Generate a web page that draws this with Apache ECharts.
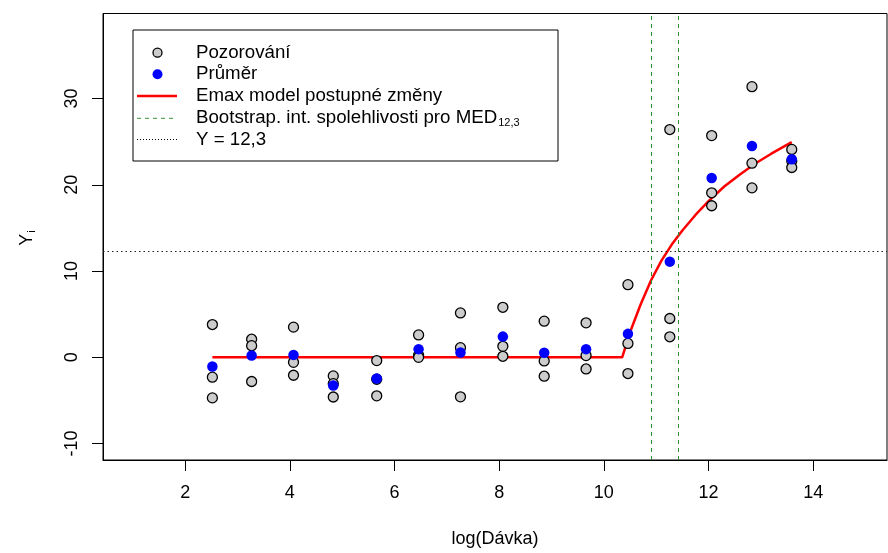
<!DOCTYPE html>
<html>
<head>
<meta charset="utf-8">
<script src="https://cdn.jsdelivr.net/npm/echarts@6/dist/echarts.min.js"></script>
<style>
html,body{margin:0;padding:0;background:#fff;}
#c{width:888px;height:553px;}
</style>
</head>
<body>
<div id="c"></div>
<script>
// ---- data ----
const doseLog = [2.52, 3.27, 4.07, 4.83, 5.66, 6.46, 7.26, 8.07, 8.86, 9.66, 10.46, 11.26, 12.06, 12.83, 13.59];
const obsHigh = [3.8, 2.1, 3.5, -2.15, -0.38, 2.6, 5.15, 5.8, 4.19, 4.0, 8.42, 26.4, 25.7, 31.37, 24.1];
const obsMid  = [-2.3, 1.35, -0.58, -3.05, -2.54, 0.25, 1.12, 1.27, -0.42, 0.2, 1.61, 4.5, 19.07, 22.5, 22.75];
const obsLow  = [-4.7, -2.8, -2.08, -4.6, -4.46, 0.0, -4.58, 0.12, -2.19, -1.35, -1.88, 2.38, 17.57, 19.64, 22.0];
const means   = [-1.07, 0.22, 0.28, -3.27, -2.46, 0.95, 0.56, 2.40, 0.53, 0.95, 2.72, 11.09, 20.78, 24.5, 22.95];
const curveX  = [2.52, 10.35, 10.5, 10.7, 10.9, 11.1, 11.3, 11.5, 11.75, 12.0, 12.3, 12.6, 12.9, 13.2, 13.59];
const curveY  = [0, 0, 2.9, 6.1, 8.9, 11.2, 13.1, 14.7, 16.5, 18.1, 19.8, 21.2, 22.5, 23.6, 24.95];
const ciBounds = [10.91, 11.426];
const yThreshold = 12.3;
const xTicks = [2, 4, 6, 8, 10, 12, 14];
const yTicks = [-10, 0, 10, 20, 30];
const legendLabels = ['Pozorování', 'Průměr', 'Emax model postupné změny', 'Bootstrap. int. spolehlivosti pro MED', 'Y = 12,3'];
const legendSub = '12,3';

const FONT = '"Liberation Sans", Arial, Helvetica, sans-serif';
const FS = 18;
const LFS = 18.7;
const GREEN = '#2f8f2f';

function pairs(xs, ys){ return xs.map((x,i)=>[x, ys[i]]); }
const obsAll = [].concat(pairs(doseLog, obsHigh), pairs(doseLog, obsMid), pairs(doseLog, obsLow));

function measure(t, size){
  const c = document.createElement('canvas').getContext('2d');
  c.font = size + 'px ' + FONT;
  return c.measureText(t).width;
}

const chart = echarts.init(document.getElementById('c'), null, {renderer:'canvas'});

// legend geometry
const LX = 133, LY = 30, LW = 425, LH = 131;
const rowY = [52.7, 74.3, 96, 118.3, 139.5];
const symX = 157.5, txtX = 196;
const lineX1 = 137, lineX2 = 177;

const g = [];
g.push({type:'rect', shape:{x:LX, y:LY, width:LW, height:LH}, style:{fill:'#fff', stroke:'#000', lineWidth:1}, z:100});
g.push({type:'circle', shape:{cx:symX, cy:rowY[0], r:4.5}, style:{fill:'#cccccc', stroke:'#000', lineWidth:1.3}, z:101});
g.push({type:'circle', shape:{cx:symX, cy:rowY[1], r:5}, style:{fill:'#0000ff'}, z:101});
g.push({type:'line', shape:{x1:lineX1, y1:rowY[2], x2:lineX2, y2:rowY[2]}, style:{stroke:'#ff0000', lineWidth:2.5}, z:101});
g.push({type:'line', shape:{x1:lineX1, y1:rowY[3], x2:lineX2, y2:rowY[3]}, style:{stroke:GREEN, lineWidth:1, lineDash:[4,4]}, z:101});
g.push({type:'line', shape:{x1:lineX1, y1:rowY[4], x2:lineX2, y2:rowY[4]}, style:{stroke:'#000', lineWidth:1, lineDash:[1,2]}, z:101});
legendLabels.forEach((t,i)=>{
  g.push({type:'text', x:txtX, y:rowY[i], style:{text:t, font: LFS+'px '+FONT, fill:'#000', verticalAlign:'middle', align:'left'}, z:101});
});
const subX = txtX + measure(legendLabels[3], LFS) + 1;
g.push({type:'text', x:subX, y:rowY[3]+5, style:{text:legendSub, font:'11px '+FONT, fill:'#000', verticalAlign:'middle', align:'left'}, z:101});
// y axis title with subscript
g.push({type:'text', x:27, y:238, rotation:Math.PI/2, style:{text:'{a|Y}{b|i}', align:'center', verticalAlign:'middle',
  rich:{a:{fontSize:FS, fontFamily:FONT, fill:'#000', lineHeight:20}, b:{fontSize:11, fontFamily:FONT, fill:'#000', lineHeight:11, verticalAlign:'bottom', padding:[0,0,0,1]}}}, z:101});

const option = {
  animation:false,
  backgroundColor:'#fff',
  grid:{left:103, right:1, top:13.5, bottom:90.7, show:true, borderColor:'#000', borderWidth:1, containLabel:false},
  xAxis:{
    type:'value', min:0.43, max:15.41,
    name:'log(Dávka)', nameLocation:'middle', nameGap:70,
    nameTextStyle:{fontSize:FS, fontFamily:FONT, color:'#000'},
    axisLine:{show:true, onZero:false, lineStyle:{color:'#000', width:1}},
    axisTick:{show:true, inside:false, length:11, lineStyle:{color:'#000'}, customValues:xTicks},
    axisLabel:{fontSize:FS, fontFamily:FONT, color:'#000', margin:24, customValues:xTicks},
    splitLine:{show:false}
  },
  yAxis:{
    type:'value', min:-11.9, max:39.85,
    axisLine:{show:true, onZero:false, lineStyle:{color:'#000', width:1}},
    axisTick:{show:true, inside:false, length:11, lineStyle:{color:'#000'}, customValues:yTicks},
    axisLabel:{fontSize:FS, fontFamily:FONT, color:'#000', rotate:90, margin:22, customValues:yTicks},
    splitLine:{show:false}
  },
  series:[
    {type:'line', data:[], silent:true,
     markLine:{silent:true, symbol:'none', label:{show:false}, emphasis:{disabled:true},
       lineStyle:{color:GREEN, width:1, type:[4,4], opacity:1},
       data:ciBounds.map(v=>({xAxis:v}))}
    },
    {type:'line', data:[], silent:true,
     markLine:{silent:true, symbol:'none', label:{show:false}, emphasis:{disabled:true},
       lineStyle:{color:'#222', width:1.2, type:[1.5,3], opacity:1},
       data:[{yAxis:yThreshold}]}
    },
    {type:'line', data:pairs(curveX, curveY), showSymbol:false, symbol:'none', smooth:false,
     lineStyle:{color:'#ff0000', width:2.5}, z:3},
    {type:'scatter', data:obsAll, symbol:'circle', symbolSize:10,
     itemStyle:{color:'#cccccc', borderColor:'#000', borderWidth:1.3, opacity:1}, z:4},
    {type:'scatter', data:pairs(doseLog, means), symbol:'circle', symbolSize:10.5,
     itemStyle:{color:'#0000ff', opacity:1}, z:5}
  ],
  graphic:g
};
chart.setOption(option);
</script>
</body>
</html>
